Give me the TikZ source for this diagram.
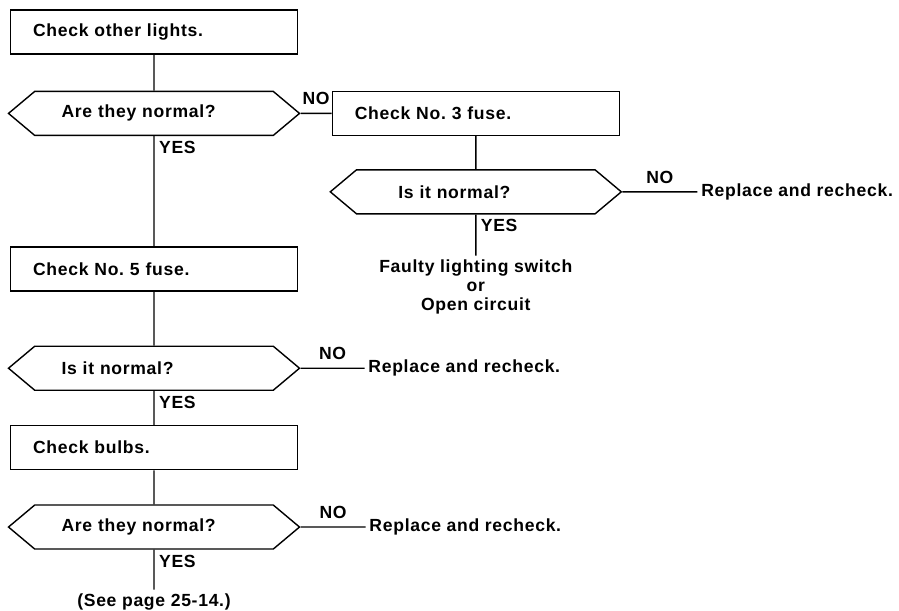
\documentclass[tikz,border=0pt]{standalone}
\usepackage{fontspec}
\setmainfont{Liberation Sans}[LetterSpace=4]
\usetikzlibrary{shapes.symbols, positioning}

\begin{document}
\begin{tikzpicture}[
    node distance=0.7cm and 0.62cm,
    every node/.style={font=\fontsize{10}{10.8}\selectfont\bfseries},
    check/.style={rectangle, draw, line width=0.8pt, minimum width=5.74cm, minimum height=0.88cm, text width=4.84cm, align=left},
    query/.style={signal, signal to=west and east, signal pointer angle=80, draw, line width=0.8pt, minimum width=5.82cm, minimum height=0.88cm, text width=3.7cm, align=left},
    link/.style={line width=0.8pt},
    yes/.style={pos=0, anchor=north west, inner sep=2.5pt},
    no/.style={midway, above=1pt},
    note/.style={align=center, inner sep=2pt}
]
\useasboundingbox (0,0) rectangle (17.98,-12.2);

% left column
\node[check] (box1) at (3.08,-0.64) {Check other lights.};
\node[query, below=0.72cm of box1] (dia1) {Are they normal?};
\node[check, below=2.2cm of dia1] (box3) {Check No.\ 5 fuse.};
\node[query, below=1.08cm of box3] (dia3) {Is it normal?};
\node[note, right=1.28cm of dia3] (fix2) {Replace and recheck.};
\node[check, below=0.68cm of dia3] (box4) {Check bulbs.};
\node[query, below=0.68cm of box4] (dia4) {Are they normal?};
\node[note, right=1.3cm of dia4] (fix3) {Replace and recheck.};
\node[note, below=0.8cm of dia4] (seepage) {(See page 25-14.)};

% right column
\node[check, right=0.62cm of dia1] (box2) {Check No.\ 3 fuse.};
\node[query, text width=3.1cm, below=0.66cm of box2] (dia2) {Is it normal?};
\node[note, right=1.5cm of dia2] (fix1) {Replace and recheck.};
\node[note, below=0.82cm of dia2] (faulty) {Faulty lighting switch\\or\\Open circuit};

\draw[link] (box1) -- (dia1);
\draw[link] (dia1) -- node[no] {NO} (box2);
\draw[link] (dia1) -- node[yes] {YES} (box3);
\draw[link] (box2) -- (dia2);
\draw[link] (dia2) -- node[no] {NO} (fix1);
\draw[link] (dia2) -- node[yes] {YES} (faulty);
\draw[link] (box3) -- (dia3);
\draw[link] (dia3) -- node[no] {NO} (fix2);
\draw[link] (dia3) -- node[yes] {YES} (box4);
\draw[link] (box4) -- (dia4);
\draw[link] (dia4) -- node[no] {NO} (fix3);
\draw[link] (dia4) -- node[yes] {YES} (seepage);

\end{tikzpicture}
\end{document}
